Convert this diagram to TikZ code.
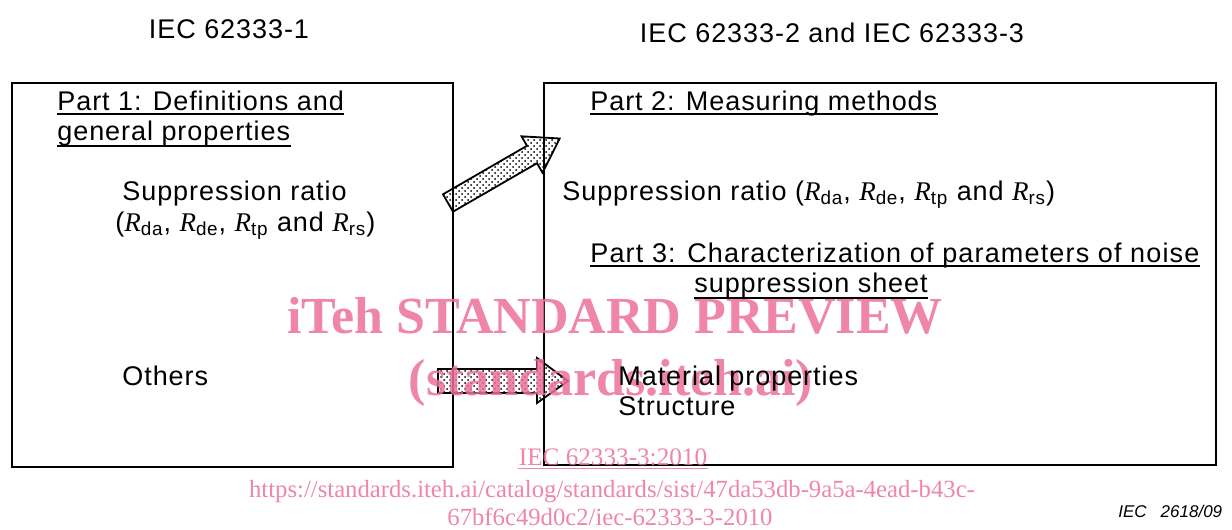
\documentclass[tikz,border=0pt]{standalone}
\usepackage{fontspec}
\setmainfont{Liberation Sans}[LetterSpace=3.5]
\newfontfamily\timesfont{Liberation Serif}
\newfontfamily\figfont{Liberation Sans}
\usetikzlibrary{patterns}
\definecolor{wmpink}{RGB}{236,112,155}
\newcommand{\Rsub}[1]{{\timesfont\itshape R}\textsubscript{#1}}
\tikzset{txt/.style={inner sep=0pt,anchor=base west,font=\fontsize{13.5}{16}\selectfont},
  panel/.style={draw,line width=1pt},
  fatarrow/.style={draw,line width=0.9pt,line join=miter,pattern=crosshatch dots},
  uline/.style={line width=0.8pt},
  wmtext/.style={inner sep=0pt,anchor=base,text=wmpink,opacity=0.85}}

\begin{document}
\begin{tikzpicture}[x=0.5pt,y=-0.5pt]
\useasboundingbox (0,0) rectangle (1232,530);

% headings
\node [txt,anchor=base] (std1) at (229,39) {IEC 62333-1};
\node [txt,anchor=base] (std23) at (832,42) {IEC 62333-2 and IEC 62333-3};

% the two parts
\draw [panel] (12,83) rectangle (453,467);
\draw [panel] (544,83) rectangle (1216,465);

% arrows between the parts
\filldraw [fatarrow] (443,194.3) -- (527,145.8) -- (521.5,136.3) -- (559.7,138.5)
  -- (542.5,172.7) -- (537,163.2) -- (453,211.7) -- cycle;
\filldraw [fatarrow] (438,369) -- (537,369) -- (537,358) -- (568,381)
  -- (537,403) -- (537,393) -- (438,393) -- cycle;

% watermark
\node [wmtext,font=\timesfont\bfseries\fontsize{26}{30}\selectfont] (wmA) at (615,333) {iTeh STANDARD PREVIEW};
\node [wmtext,font=\timesfont\bfseries\fontsize{26}{30}\selectfont] (wmB) at (611,395) {(standards.iteh.ai)};
\node [wmtext,font=\timesfont\fontsize{12.6}{14}\selectfont] (wmC) at (613,465) {IEC 62333-3:2010};
\draw [wmpink,opacity=0.85,line width=0.5pt] ([yshift=-1.5pt]wmC.base west) -- ([yshift=-1.5pt]wmC.base east);
\node [wmtext,font=\timesfont\fontsize{12.35}{14}\selectfont] (wmD) at (612,497) {https://standards.iteh.ai/catalog/standards/sist/47da53db-9a5a-4ead-b43c-};
\node [wmtext,font=\timesfont\fontsize{12.35}{14}\selectfont] (wmE) at (610,525) {67bf6c49d0c2/iec-62333-3-2010};

% part 1
\node [txt] (p1a) at (57,110) {Part 1: Definitions and};
\node [txt] (p1b) at (57,140) {general properties};
\draw [uline] ([yshift=-2pt]p1a.base west) -- ([yshift=-2pt]p1a.base east);
\draw [uline] ([yshift=-3pt]p1b.base west) -- ([yshift=-3pt]p1b.base east);
\node [txt] (sr1) at (122,200) {Suppression ratio};
\node [txt] (sr1b) at (115,231) {(\Rsub{da}, \Rsub{de}, \Rsub{tp} and \Rsub{rs})};
\node [txt] (oth) at (122,385) {Others};

% part 2
\node [txt] (p2) at (590,110) {Part 2: Measuring methods};
\draw [uline] ([yshift=-2pt]p2.base west) -- ([yshift=-2pt]p2.base east);
\node [txt] (sr2) at (562,200) {Suppression ratio (\Rsub{da}, \Rsub{de}, \Rsub{tp} and \Rsub{rs})};

% part 3
\node [txt] (p3a) at (590,262) {\addfontfeature{LetterSpace=4.3}Part 3: Characterization of parameters of noise};
\node [txt] (p3b) at (694,292) {suppression sheet};
\draw [uline] ([yshift=-2pt]p3a.base west) -- ([yshift=-2pt]p3a.base east);
\draw [uline] ([yshift=-3pt]p3b.base west) -- ([yshift=-3pt]p3b.base east);
\node [txt] (mat) at (618,385) {Material properties};
\node [txt] (str) at (618,415) {Structure};

% figure number
\node [txt,font=\figfont\itshape\fontsize{8.5}{10}\selectfont] (fig) at (1118,517) {IEC\hspace{7pt}2618/09};
\end{tikzpicture}
\end{document}
